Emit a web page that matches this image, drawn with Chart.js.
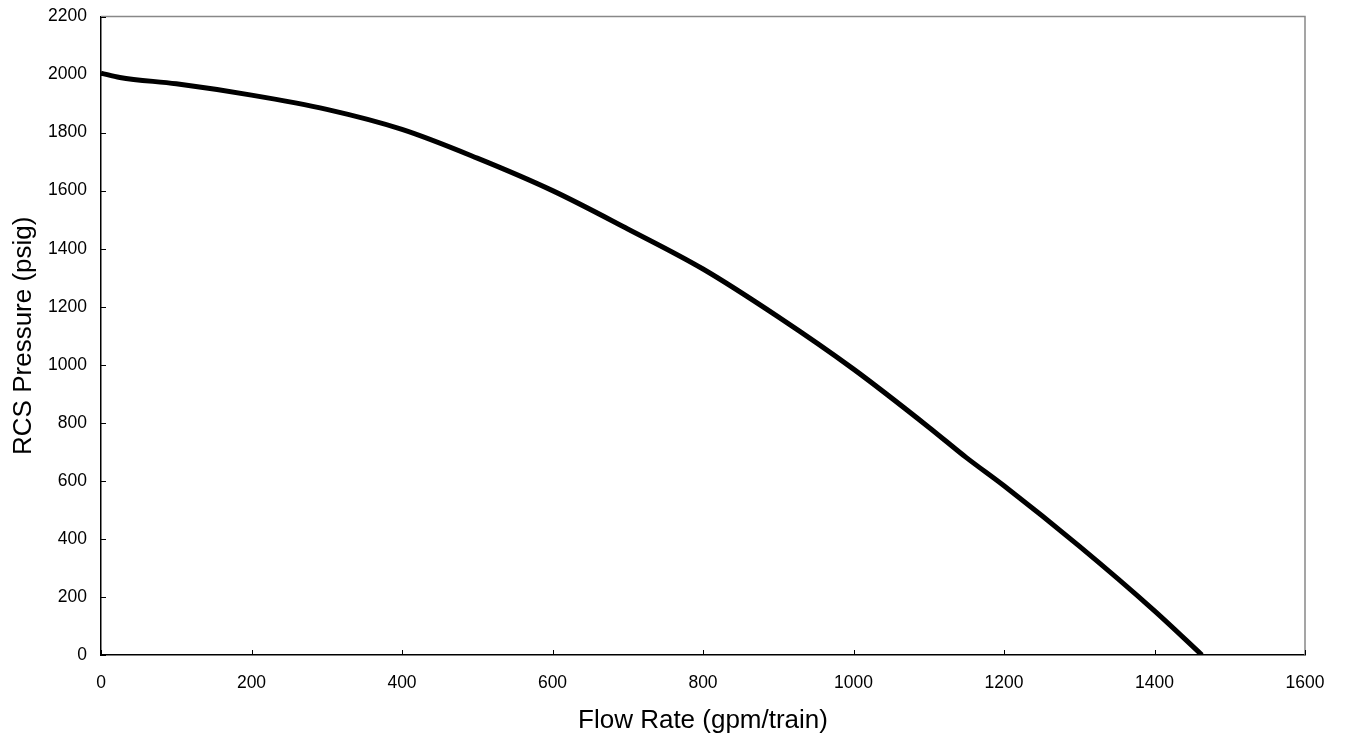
<!DOCTYPE html>
<html>
<head>
<meta charset="utf-8">
<script src="https://cdn.jsdelivr.net/npm/chart.js@4/dist/chart.umd.min.js"></script>
<style>
    html, body { margin: 0; padding: 0; background: #fff; }
    #wrap { width: 1347px; height: 736px; }
</style>
</head>
<body>
<div id="wrap"><canvas id="pumpChart"></canvas></div>
<script>
    // 流量 (gpm/train)
    const flowRate = [0, 25, 100, 200, 300, 400, 500, 600, 700, 800, 900, 1000, 1100, 1150, 1200, 1300, 1400, 1463];
    // RCS 壓力 (psig)
    const rcsPressure = [2005, 1990, 1968, 1929, 1880, 1811, 1712, 1600, 1468, 1330, 1165, 985, 785, 680, 583, 375, 152, 0];

    const xTitle = 'Flow Rate (gpm/train)';
    const yTitle = 'RCS Pressure (psig)';

    // 組資料點
    const points = flowRate.map((f, i) => ({ x: f, y: rcsPressure[i] }));

    // 內側刻度線 + 上、右框線
    const frameTicks = {
        id: 'frameTicks',
        afterDraw(chart) {
            const { ctx, chartArea, scales } = chart;
            ctx.save();
            ctx.strokeStyle = '#888';
            ctx.lineWidth = 1.5;
            ctx.beginPath();
            ctx.moveTo(chartArea.left, chartArea.top);
            ctx.lineTo(chartArea.right, chartArea.top);
            ctx.lineTo(chartArea.right, chartArea.bottom);
            ctx.stroke();

            ctx.strokeStyle = '#000';
            ctx.lineWidth = 1;
            ctx.beginPath();
            scales.x.ticks.forEach(t => {
                const px = Math.round(scales.x.getPixelForValue(t.value)) + 0.5;
                ctx.moveTo(px, chartArea.bottom);
                ctx.lineTo(px, chartArea.bottom - 5);
            });
            scales.y.ticks.forEach(t => {
                const py = Math.round(scales.y.getPixelForValue(t.value)) + 0.5;
                ctx.moveTo(chartArea.left, py);
                ctx.lineTo(chartArea.left + 5, py);
            });
            ctx.stroke();
            ctx.restore();
        }
    };

    const tickFont = { family: 'Liberation Sans, Arial, sans-serif', size: 17.5 };
    const titleFont = { family: 'Liberation Sans, Arial, sans-serif', size: 26 };

    new Chart(document.getElementById('pumpChart'), {
        type: 'line',
        data: {
            datasets: [{
                data: points,
                borderColor: '#000',
                borderWidth: 5,
                pointRadius: 0,
                cubicInterpolationMode: 'monotone',
                fill: false
            }]
        },
        options: {
            responsive: true,
            maintainAspectRatio: false,
            animation: false,
            layout: { padding: { top: 13, right: 42, left: 0, bottom: 0 } },
            plugins: {
                legend: { display: false },
                tooltip: { enabled: false }
            },
            scales: {
                x: {
                    type: 'linear',
                    min: 0,
                    max: 1600,
                    grid: { display: false },
                    border: { display: true, color: '#000', width: 1.5 },
                    ticks: { stepSize: 200, color: '#000', font: tickFont, padding: 10, maxRotation: 0, callback: v => String(v) },
                    title: { display: true, text: xTitle, color: '#000', font: titleFont, padding: { top: 0, bottom: 0 } },
                    afterFit(scale) { scale.height = 81; }
                },
                y: {
                    min: 0,
                    max: 2200,
                    grid: { display: false },
                    border: { display: true, color: '#000', width: 1.5 },
                    ticks: { stepSize: 200, color: '#000', font: tickFont, padding: 6, callback: v => String(v) },
                    title: { display: true, text: yTitle, color: '#000', font: titleFont, padding: { top: 8, bottom: 0 } },
                    afterFit(scale) { scale.width = 101; }
                }
            }
        },
        plugins: [frameTicks]
    });
</script>
</body>
</html>
